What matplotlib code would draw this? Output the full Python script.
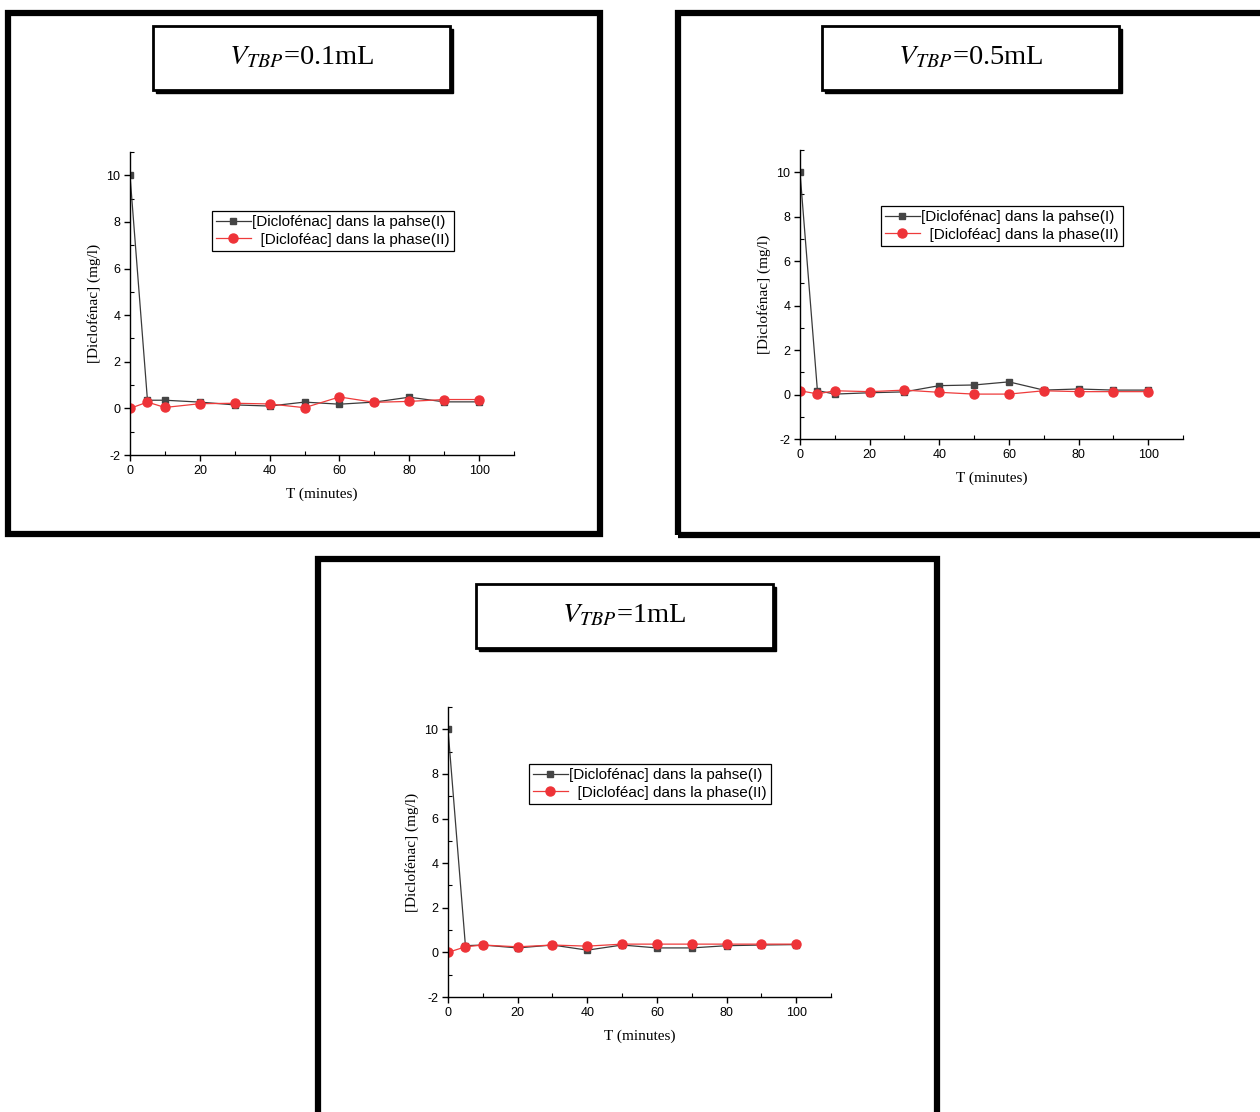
import numpy as np
import matplotlib
matplotlib.use("Agg")
import matplotlib.pyplot as plt
from matplotlib.patches import Rectangle
from matplotlib.ticker import MultipleLocator

# data
t_min = [0, 5, 10, 20, 30, 40, 50, 60, 70, 80, 90, 100]

phase1_01 = [10, 0.35, 0.35, 0.27, 0.15, 0.10, 0.27, 0.18, 0.27, 0.48, 0.28, 0.28]
phase2_01 = [0, 0.27, 0.04, 0.20, 0.22, 0.19, 0.03, 0.49, 0.26, 0.30, 0.38, 0.38]

phase1_05 = [10, 0.18, 0.02, 0.08, 0.12, 0.40, 0.43, 0.57, 0.20, 0.25, 0.20, 0.20]
phase2_05 = [0.17, 0.03, 0.17, 0.13, 0.20, 0.10, 0.02, 0.02, 0.17, 0.13, 0.13, 0.13]

phase1_1 = [10, 0.30, 0.33, 0.20, 0.33, 0.10, 0.33, 0.20, 0.20, 0.30, 0.33, 0.35]
phase2_1 = [0, 0.25, 0.33, 0.25, 0.33, 0.28, 0.37, 0.37, 0.37, 0.37, 0.37, 0.37]

titles = [r"$V_{TBP}$=0.1mL", r"$V_{TBP}$=0.5mL", r"$V_{TBP}$=1mL"]
label1 = "[Diclofénac] dans la pahse(I)"
label2 = "  [Dicloféac] dans la phase(II)"

W, H = 1260, 1112
plt.rcParams['mathtext.fontset'] = 'stix'
plt.rcParams['axes.unicode_minus'] = False

fig = plt.figure(figsize=(W / 100, H / 100), dpi=100)
fig.patch.set_facecolor('white')


def rect_fig(x0, y0, x1, y1):
    return [x0 / W, 1 - y1 / H, (x1 - x0) / W, (y1 - y0) / H]


def frame(x0, y0, x1, y1, lw):
    r = Rectangle((x0 / W, 1 - y1 / H), (x1 - x0) / W, (y1 - y0) / H,
                  transform=fig.transFigure, fill=False, ec='black', lw=lw)
    fig.patches.append(r)


def title_box(x0, y0, x1, y1, text):
    # shadow first, then the white box
    s = Rectangle(((x0 + 3) / W, 1 - (y1 + 3) / H), (x1 - x0) / W, (y1 - y0) / H,
                  transform=fig.transFigure, fc='black', ec='black', lw=1)
    b = Rectangle((x0 / W, 1 - y1 / H), (x1 - x0) / W, (y1 - y0) / H,
                  transform=fig.transFigure, fc='white', ec='black', lw=2)
    fig.patches.append(s)
    fig.patches.append(b)
    fig.text((x0 + x1) / 2 / W, 1 - (y0 + y1) / 2 / H, text, ha='center', va='center',
             fontsize=20.5, family='Liberation Serif')


def panel(box, leg_xy, y1, y2):
    ax = fig.add_axes(rect_fig(*box))
    ax.plot(t_min, y1, color='#3a3a3a', lw=0.9, marker='s', ms=5,
            mfc='#454545', mec='#454545', label=label1)
    ax.plot(t_min, y2, color='#ee3b3b', lw=0.9, marker='o', ms=6.5,
            mfc='#ee3338', mec='#ee3338', label=label2)
    ax.set_xlim(0, 110)
    ax.set_ylim(-2, 11)
    ax.set_xticks([0, 20, 40, 60, 80, 100])
    ax.set_yticks([-2, 0, 2, 4, 6, 8, 10])
    ax.xaxis.set_minor_locator(MultipleLocator(10))
    ax.yaxis.set_minor_locator(MultipleLocator(1))
    ax.spines['top'].set_visible(False)
    ax.spines['right'].set_visible(False)
    for sp in ['left', 'bottom']:
        ax.spines[sp].set_linewidth(1.0)
    ax.tick_params(which='major', direction='out', length=4, width=1,
                   labelsize=9, pad=3)
    ax.tick_params(which='minor', direction='in', length=3, width=0.8)
    for lab in ax.get_xticklabels() + ax.get_yticklabels():
        lab.set_family('Liberation Sans')
    ax.set_xlabel("T (minutes)", family='Liberation Serif', fontsize=11, labelpad=8)
    ax.set_ylabel("[Diclofénac] (mg/l)", family='Liberation Serif', fontsize=11,
                  labelpad=4)
    leg = ax.legend(loc='upper left', bbox_to_anchor=leg_xy, frameon=True,
                    fancybox=False, edgecolor='black', framealpha=1,
                    prop={'family': 'Liberation Sans', 'size': 11},
                    handlelength=2.3, handletextpad=0.1, labelspacing=0.25,
                    borderpad=0.25, borderaxespad=0)
    leg.get_frame().set_linewidth(0.9)
    return ax


# outer panel frames
frame(8, 13, 600, 534, 4.5)
frame(678, 13, 1290, 535, 4.5)
frame(318, 559, 937, 1140, 4.5)

title_box(153, 26, 450, 90, titles[0])
title_box(822, 26, 1119, 90, titles[1])
title_box(476, 584, 773, 648, titles[2])

panel((130, 152, 514, 455), (0.2135, 0.805), phase1_01, phase2_01)
panel((800, 150, 1183, 439), (0.2115, 0.806), phase1_05, phase2_05)
panel((448, 707, 831, 997), (0.2115, 0.803), phase1_1, phase2_1)

fig.savefig("out.png", dpi=100)
